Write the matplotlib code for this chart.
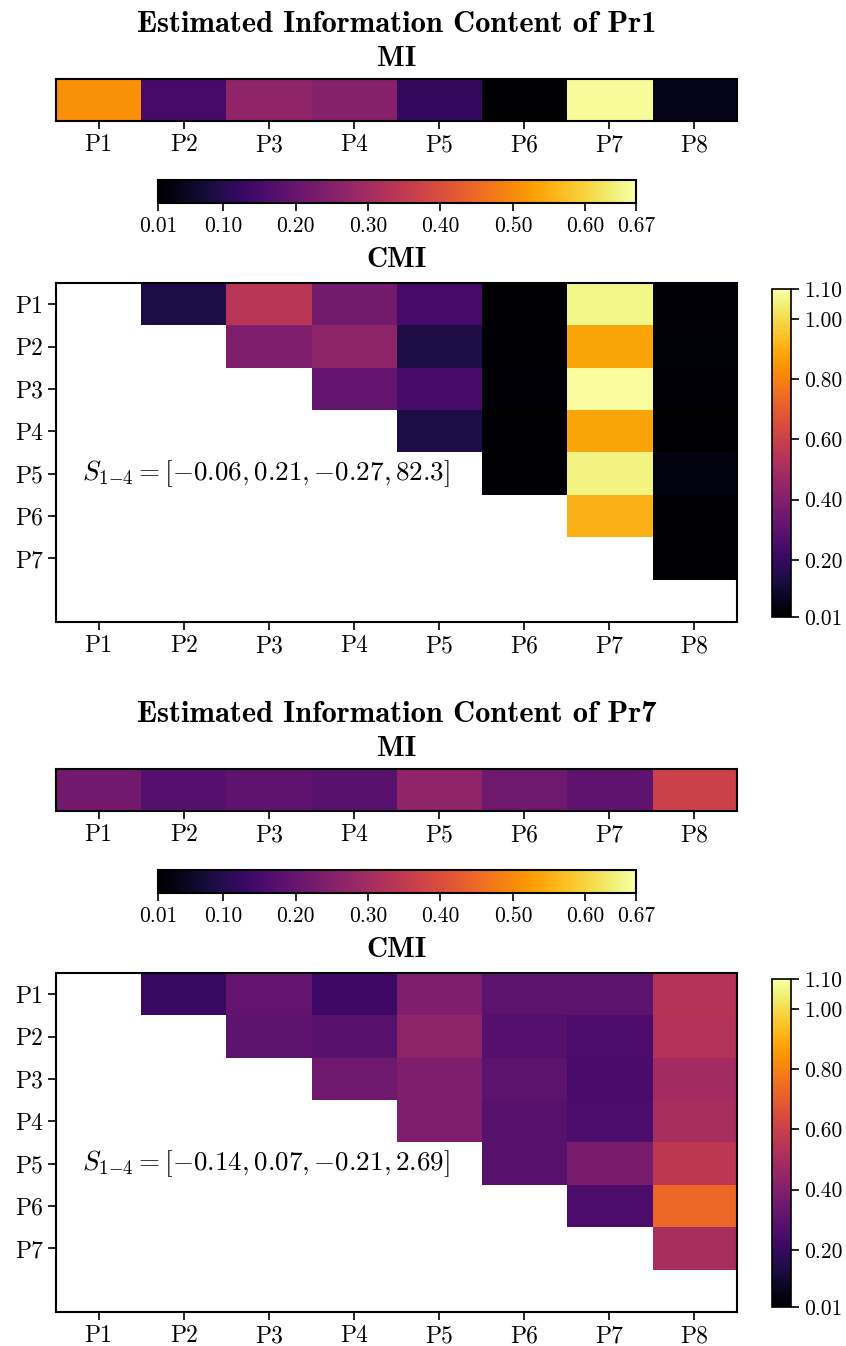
import matplotlib
matplotlib.use('Agg')
from matplotlib import pyplot as plt
import numpy as np

plt.rcParams['font.family'] = 'cmr10'
plt.rcParams['mathtext.fontset'] = 'cm'
plt.rcParams['axes.formatter.use_mathtext'] = True

# Data
labels = ['P1', 'P2', 'P3', 'P4', 'P5', 'P6', 'P7', 'P8']
mi_ticks = [0.01, 0.10, 0.20, 0.30, 0.40, 0.50, 0.60, 0.67]
cmi_ticks = [0.01, 0.20, 0.40, 0.60, 0.80, 1.00, 1.10]

pr1_mi = [0.51, 0.15, 0.27, 0.25, 0.12, 0.01, 0.66, 0.04]
# row i holds values for columns i+1 .. 7
pr1_cmi = [
    [0.14, 0.55, 0.36, 0.24, 0.01, 1.07, 0.02],
    [0.39, 0.43, 0.14, 0.01, 0.88, 0.03],
    [0.32, 0.24, 0.02, 1.09, 0.02],
    [0.14, 0.01, 0.88, 0.01],
    [0.01, 1.06, 0.04],
    [0.91, 0.01],
    [0.01],
]
pr1_s = r'$S_{1{-}4} = [{-}0.06, 0.21, {-}0.27, 82.3]$'

pr7_mi = [0.22, 0.175, 0.19, 0.18, 0.27, 0.215, 0.19, 0.37]
pr7_cmi = [
    [0.21, 0.32, 0.22, 0.39, 0.30, 0.30, 0.54],
    [0.30, 0.29, 0.43, 0.28, 0.26, 0.53],
    [0.35, 0.39, 0.30, 0.25, 0.49],
    [0.39, 0.29, 0.26, 0.50],
    [0.29, 0.38, 0.56],
    [0.26, 0.73],
    [0.50],
]
pr7_s = r'$S_{1{-}4} = [{-}0.14, 0.07, {-}0.21, 2.69]$'

W, H = 846.0, 1346.0


def box(x0, y0, x1, y1):
    # pixel box (top-left origin) -> figure fraction rect
    return [x0 / W, 1 - y1 / H, (x1 - x0) / W, (y1 - y0) / H]


def upper_matrix(rows):
    n = len(rows) + 1
    m = np.full((n, n), np.nan)
    for i, r in enumerate(rows):
        m[i, i + 1:] = r
    return m


def panel(fig, dy, name, mi, cmi, s_text):
    cx = (56 + 737) / 2.0 / W
    fig.text(cx, 1 - (32 + dy) / H, 'Estimated Information Content of ' + name,
             ha='center', va='baseline', family='cmb10', fontsize=22)
    fig.text(cx, 1 - (66 + dy) / H, 'MI', ha='center', va='baseline',
             family='cmb10', fontsize=21)
    fig.text(cx, 1 - (267 + dy) / H, 'CMI', ha='center', va='baseline',
             family='cmb10', fontsize=21)

    # MI strip
    ax = fig.add_axes(box(56, 79 + dy, 737, 121 + dy))
    im = ax.imshow(np.array([mi]), cmap='inferno', vmin=0.01, vmax=0.67, aspect='auto')
    ax.set_yticks([])
    ax.set_xticks(range(8))
    ax.set_xticklabels(labels)
    ax.tick_params(labelsize=17, length=6, width=1.2)
    for sp in ax.spines.values():
        sp.set_linewidth(1.5)

    cax = fig.add_axes(box(158, 180 + dy, 636, 203 + dy))
    cb = fig.colorbar(im, cax=cax, orientation='horizontal', ticks=mi_ticks)
    cb.ax.set_xticklabels(['%.2f' % t for t in mi_ticks])
    cb.ax.tick_params(labelsize=15.5, length=6, width=1.2)
    cb.outline.set_linewidth(1.5)

    # CMI triangle
    ax2 = fig.add_axes(box(56, 283 + dy, 737, 622 + dy))
    im2 = ax2.imshow(upper_matrix(cmi), cmap='inferno', vmin=0.01, vmax=1.10, aspect='auto')
    ax2.set_xticks(range(8))
    ax2.set_xticklabels(labels)
    ax2.set_yticks(range(7))
    ax2.set_yticklabels(labels[:7])
    ax2.tick_params(labelsize=17, length=6, width=1.2)
    for sp in ax2.spines.values():
        sp.set_linewidth(1.5)
    ax2.text(-0.19, 4, s_text, fontsize=19.5, va='center', ha='left')

    cax2 = fig.add_axes(box(772, 289 + dy, 791, 617 + dy))
    cb2 = fig.colorbar(im2, cax=cax2, ticks=cmi_ticks)
    cb2.ax.set_yticklabels(['%.2f' % t for t in cmi_ticks])
    cb2.ax.tick_params(labelsize=15.5, length=6, width=1.2)
    cb2.outline.set_linewidth(1.2)


fig = plt.figure(figsize=(8.46, 13.46), dpi=100)
panel(fig, 0, 'Pr1', pr1_mi, pr1_cmi, pr1_s)
panel(fig, 690, 'Pr7', pr7_mi, pr7_cmi, pr7_s)

plt.savefig('out.png', dpi=100)
